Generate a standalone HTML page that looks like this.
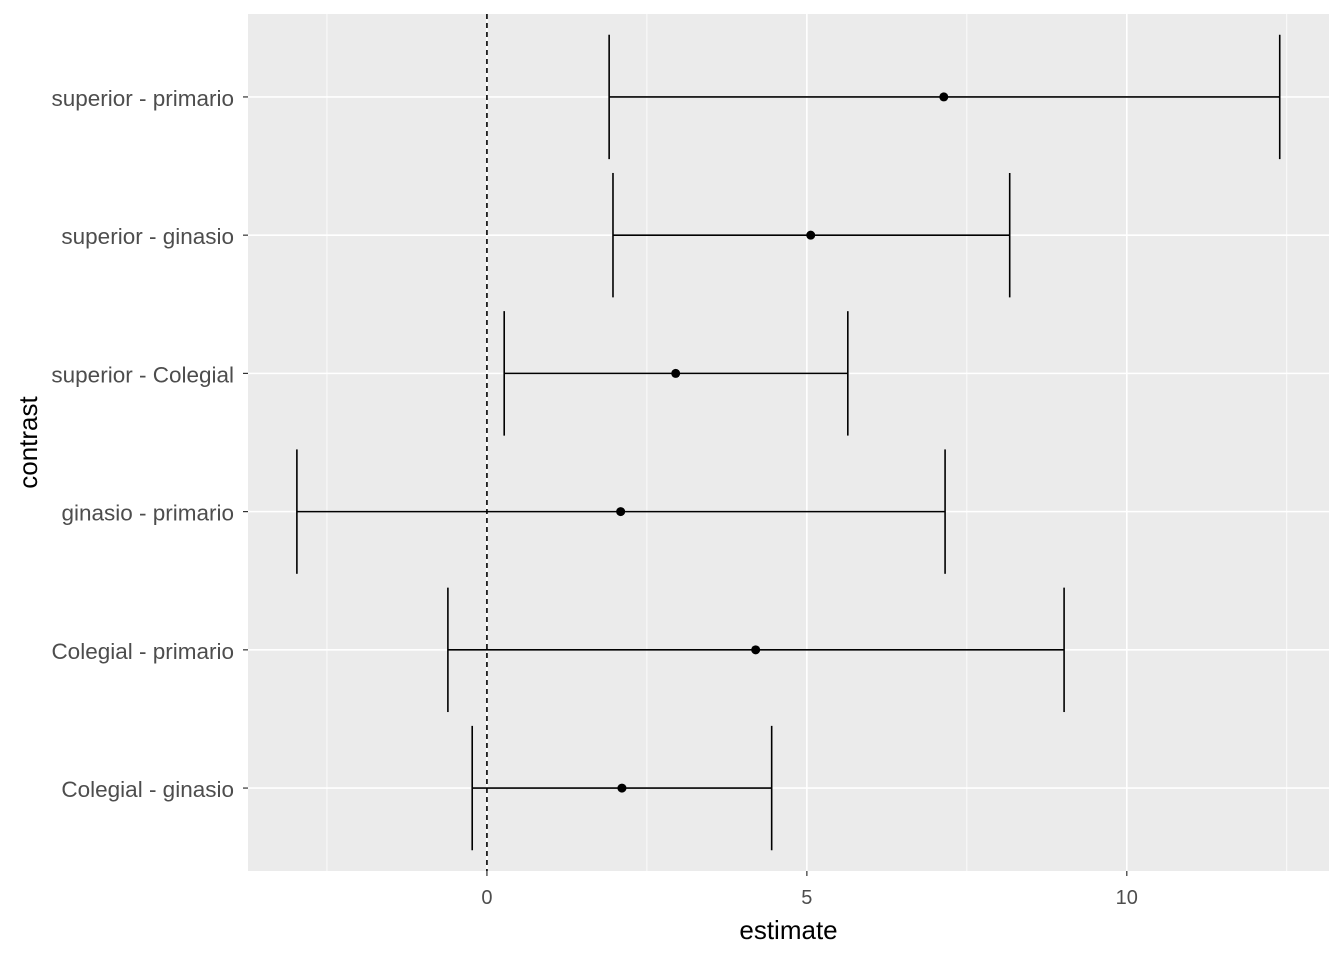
<!DOCTYPE html>
<html><head><meta charset="utf-8"><style>
body{margin:0;background:#fff;}
svg{display:block;font-family:"Liberation Sans",Arial,sans-serif;}
</style></head><body>
<svg id="chart" width="1344" height="960"></svg>
<script>
const categories=["superior - primario","superior - ginasio","superior - Colegial","ginasio - primario","Colegial - primario","Colegial - ginasio"];
const estimates=[7.14,5.06,2.95,2.09,4.20,2.11];
const lowers=[1.91,1.97,0.27,-2.97,-0.61,-0.23];
const uppers=[12.39,8.17,5.64,7.16,9.02,4.45];
const xTicks=[0,5,10];
const xMinor=[-2.5,2.5,7.5,12.5];
const PL=248,PR=1329,PT=14,PB=871,XMIN=-3.734,XMAX=13.16;
const sx=v=>PL+(v-XMIN)/(XMAX-XMIN)*(PR-PL);
const step=(PB-PT)/(categories.length-1+1.2);
const sy=i=>PT+0.6*step+i*step;
const svg=document.getElementById('chart');
const NS='http://www.w3.org/2000/svg';
function mk(t,a,p){const e=document.createElementNS(NS,t);for(const k in a)e.setAttribute(k,a[k]);(p||svg).appendChild(e);return e;}
const bg=mk('rect',{x:PL,y:PT,width:PR-PL,height:PB-PT,fill:'#ebebeb'});


xMinor.forEach(v=>{const l=mk('line',{x1:sx(v),x2:sx(v),y1:PT,y2:PB,stroke:'#fff','stroke-width':0.8});

});
xTicks.forEach(v=>{const l=mk('line',{x1:sx(v),x2:sx(v),y1:PT,y2:PB,stroke:'#fff','stroke-width':1.6});


const t=mk('line',{x1:sx(v),x2:sx(v),y1:PB,y2:PB+5,stroke:'#333','stroke-width':1.2});


const tx=mk('text',{x:sx(v),y:PB+33,'text-anchor':'middle','font-size':'20px',fill:'#4d4d4d'});tx.textContent=v;

});
categories.forEach((c,i)=>{const y=sy(i);
const g=mk('line',{x1:PL,x2:PR,y1:y,y2:y,stroke:'#fff','stroke-width':1.6});


const t=mk('line',{x1:PL-5,x2:PL,y1:y,y2:y,stroke:'#333','stroke-width':1.2});


const tx=mk('text',{x:PL-14,y:y+9,'text-anchor':'end','font-size':'22.5px',fill:'#4d4d4d'});tx.textContent=c;

});
const z=mk('line',{x1:sx(0),x2:sx(0),y1:PT,y2:PB,stroke:'#000','stroke-width':1.6,'stroke-dasharray':'5,4'});


const hw=step*0.45;
categories.forEach((c,i)=>{const y=sy(i);
const g=mk('g',{stroke:'#000','stroke-width':1.6});


mk('line',{x1:sx(lowers[i]),x2:sx(uppers[i]),y1:y,y2:y},g);
mk('line',{x1:sx(lowers[i]),x2:sx(lowers[i]),y1:y-hw,y2:y+hw},g);
mk('line',{x1:sx(uppers[i]),x2:sx(uppers[i]),y1:y-hw,y2:y+hw},g);
const p=mk('circle',{cx:sx(estimates[i]),cy:y,r:4.5,fill:'#000'});

});
const xt=mk('text',{x:(PL+PR)/2,y:939,'text-anchor':'middle','font-size':'26px',fill:'#000'});xt.textContent='estimate';


const yt=mk('text',{x:0,y:0,'text-anchor':'middle','font-size':'26px',fill:'#000',transform:'translate(37,'+((PT+PB)/2)+') rotate(-90)'});yt.textContent='contrast';


</script>
</body></html>
